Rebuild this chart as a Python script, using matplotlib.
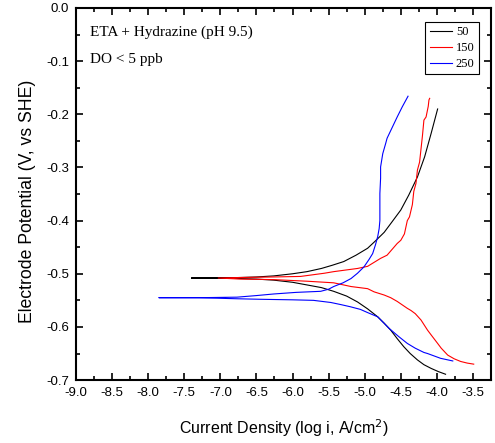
import matplotlib.pyplot as plt
from matplotlib.ticker import MultipleLocator

# 扫描温度 (legend) 与曲线数据: log i (x), E (y)
labels = ['50', '150', '250']
colors = ['black', 'red', 'blue']

logi_50 = [-3.88, -3.98, -4.08, -4.18, -4.27, -4.37, -4.46, -4.55, -4.64, -4.73, -4.82, -4.96,
           -5.10, -5.25, -5.43, -5.60, -5.80, -6.00, -6.26, -6.50, -6.72, -7.10, -7.40,
           -7.10, -6.72, -6.50, -6.26, -6.00, -5.80, -5.60, -5.45, -5.29, -5.12, -4.96,
           -4.85, -4.73, -4.62, -4.50, -4.39, -4.27, -4.17, -4.08, -3.99]
e_50 = [-0.689, -0.684, -0.678, -0.671, -0.662, -0.650, -0.637, -0.622, -0.606, -0.593, -0.581, -0.566,
        -0.553, -0.542, -0.533, -0.526, -0.521, -0.516, -0.512, -0.510, -0.509, -0.508, -0.508,
        -0.508, -0.507, -0.506, -0.504, -0.500, -0.496, -0.490, -0.484, -0.477, -0.465, -0.452,
        -0.438, -0.422, -0.402, -0.380, -0.352, -0.318, -0.280, -0.236, -0.190]

logi_150 = [-3.49, -3.58, -3.67, -3.76, -3.85, -3.94, -3.99, -4.08, -4.13, -4.22, -4.30, -4.36,
            -4.41, -4.55, -4.64, -4.73, -4.87, -4.96, -5.19, -5.43, -5.80, -6.26, -6.72, -7.03,
            -6.72, -6.26, -5.89, -5.56, -5.43, -5.10, -4.96, -4.78, -4.69, -4.55, -4.50, -4.45,
            -4.41, -4.38, -4.34, -4.32, -4.29, -4.27, -4.24, -4.22, -4.20, -4.18, -4.15, -4.12, -4.11, -4.10]
e_150 = [-0.670, -0.668, -0.665, -0.660, -0.653, -0.640, -0.631, -0.615, -0.606, -0.587, -0.575, -0.569,
         -0.565, -0.552, -0.545, -0.540, -0.534, -0.528, -0.524, -0.517, -0.514, -0.511, -0.510, -0.508,
         -0.507, -0.506, -0.505, -0.499, -0.496, -0.490, -0.486, -0.471, -0.465, -0.443, -0.437, -0.425,
         -0.400, -0.393, -0.370, -0.345, -0.330, -0.305, -0.290, -0.265, -0.240, -0.211, -0.205, -0.185, -0.173, -0.170]

logi_250 = [-3.78, -3.95, -4.13, -4.18, -4.30, -4.41, -4.53, -4.66, -4.74, -4.82, -4.96, -5.06,
            -5.20, -5.33, -5.47, -5.71, -6.00, -6.44, -6.77, -7.30, -7.85,
            -7.30, -6.77, -6.50, -6.26, -5.95, -5.61, -5.50, -5.43, -5.30, -5.19, -5.10, -5.01,
            -4.94, -4.89, -4.85, -4.82, -4.80, -4.79, -4.79, -4.78, -4.78, -4.75, -4.71, -4.69,
            -4.62, -4.55, -4.48, -4.40]
e_250 = [-0.664, -0.659, -0.650, -0.648, -0.640, -0.631, -0.618, -0.603, -0.592, -0.581, -0.573, -0.567,
         -0.562, -0.558, -0.554, -0.550, -0.549, -0.548, -0.547, -0.545, -0.545,
         -0.545, -0.544, -0.541, -0.538, -0.535, -0.533, -0.529, -0.524, -0.517, -0.509, -0.499, -0.487,
         -0.473, -0.462, -0.445, -0.430, -0.415, -0.400, -0.349, -0.320, -0.299, -0.274, -0.255, -0.245,
         -0.225, -0.205, -0.186, -0.166]

xs = [logi_50, logi_150, logi_250]
ys = [e_50, e_150, e_250]

fig = plt.figure(figsize=(4.95, 4.43), dpi=100)
ax = fig.add_axes([0.1535, 0.142, 0.8385, 0.84])

for x, y, c, lab in zip(xs, ys, colors, labels):
    ax.plot(x, y, color=c, lw=0.8, label=lab)

ax.set_xlim(-9.0, -3.25)
ax.set_ylim(-0.7, 0.0)
ax.xaxis.set_major_locator(MultipleLocator(0.5))
ax.xaxis.set_minor_locator(MultipleLocator(0.25))
ax.yaxis.set_major_locator(MultipleLocator(0.1))
ax.yaxis.set_minor_locator(MultipleLocator(0.05))
ax.xaxis.set_major_formatter(lambda v, p: '%.1f' % v)
ax.yaxis.set_major_formatter(lambda v, p: '%.1f' % v)

ax.tick_params(which='both', direction='in', top=True, right=True, width=1.2,
               labelsize=9.5, labelfontfamily='Liberation Sans')
ax.tick_params(which='major', length=5, pad=5)
ax.tick_params(which='minor', length=3)
for s in ax.spines.values():
    s.set_linewidth(1.5)

ax.set_xlabel('Current Density (log i, A/cm$^2$)', fontsize=11.5, family='Liberation Sans', labelpad=13)
ax.set_ylabel('Electrode Potential (V, vs SHE)', fontsize=12.7, family='Liberation Sans')
ax.yaxis.set_label_coords(-0.097, 0.48)

ax.text(0.034, 0.925, 'ETA + Hydrazine (pH 9.5)', transform=ax.transAxes,
        family='Liberation Serif', fontsize=11, va='baseline')
ax.text(0.034, 0.852, 'DO < 5 ppb', transform=ax.transAxes,
        family='Liberation Serif', fontsize=11, va='baseline')

leg = ax.legend(loc='upper right', bbox_to_anchor=(0.971, 0.962), borderaxespad=0,
                fancybox=False, edgecolor='black', framealpha=1,
                prop={'family': 'Liberation Serif', 'size': 9},
                handlelength=1.8, handletextpad=0.3, labelspacing=0.3, borderpad=0.35)
leg.get_frame().set_linewidth(0.8)

fig.savefig('out.png', dpi=100)
